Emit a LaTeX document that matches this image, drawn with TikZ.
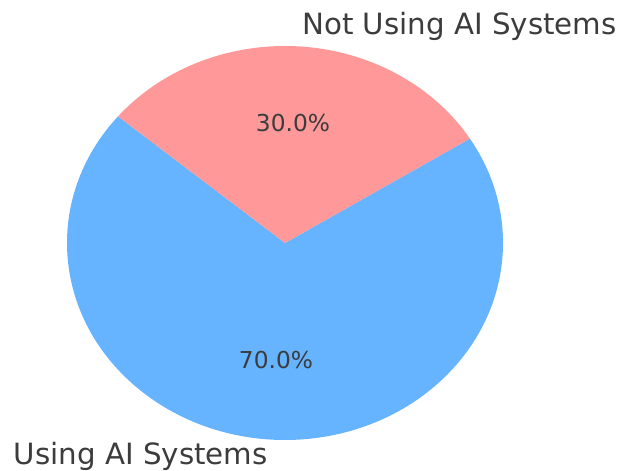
\documentclass[tikz,border=0pt]{standalone}
\usepackage{fontspec}
\setmainfont{DejaVu Sans}
\usetikzlibrary{calc}
\definecolor{usingblue}{HTML}{66B3FF}
\definecolor{notred}{HTML}{FF9999}
\definecolor{txtgray}{HTML}{3C3C3C}
\begin{document}
\begin{tikzpicture}[x=1pt,y=1pt,
  biglabel/.style={text=txtgray,inner sep=0pt,font=\fontsize{29.3}{32}\selectfont},
  pctlabel/.style={text=txtgray,inner sep=0pt,font=\fontsize{23.3}{26}\selectfont}]
\useasboundingbox (0,0) rectangle (622,471);
\coordinate (c) at (285,228);
\fill[usingblue] (c) -- ($(c)+(140:218 and 197)$) arc[start angle=140,end angle=392,x radius=218,y radius=197] -- cycle;
\fill[notred] (c) -- ($(c)+(32:218 and 197)$) arc[start angle=32,end angle=140,x radius=218,y radius=197] -- cycle;
\node[biglabel,anchor=base east] (using) at (268,6) {Using AI Systems};
\node[biglabel,anchor=base west] (notusing) at (302,436) {Not Using AI Systems};
\node[pctlabel,anchor=base] (p70) at (276,102) {70.0\%};
\node[pctlabel,anchor=base] (p30) at (293,339) {30.0\%};
\end{tikzpicture}
\end{document}
